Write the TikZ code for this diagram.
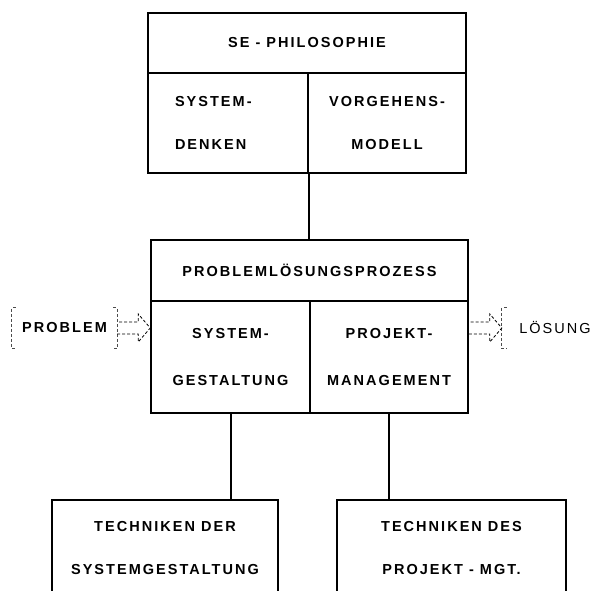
\documentclass[tikz,border=0pt]{standalone}
\usepackage{fontspec}
\setmainfont{Liberation Sans}[LetterSpace=14]
\usetikzlibrary{calc}

\tikzset{
  box/.style={draw, line width=1.5pt, inner sep=0pt, align=center,
    font=\bfseries\fontsize{14.5}{43}\selectfont},
  link/.style={line width=1.5pt},
  hollow/.style={densely dashed, line width=0.8pt},
  bracket/.style={densely dashed, line width=0.8pt, black!70},
  label/.style={inner sep=0pt, minimum height=40, font=\fontsize{14.5}{16}\selectfont},
}
% hollow block arrow from #1 to #2
\newcommand{\fatarrow}[2]{%
  \draw[hollow] ($(#1)+(0,6)$) -- ($(#2)+(-12,6)$) -- ($(#2)+(-12,14)$) -- (#2)
    -- ($(#2)+(-12,-14)$) -- ($(#2)+(-12,-6)$) -- ($(#1)+(0,-6)$);}

\begin{document}
\begin{tikzpicture}[x=1pt,y=-1pt]
\useasboundingbox (0,0) rectangle (602,591);

% SE-Philosophie
\node[box, minimum width=318, minimum height=60] (phil) at (307,43) {SE - PHILOSOPHIE};
\node[box, minimum width=160, minimum height=100, text width=106, align=left] (sysdenk) at (228,123) {SYSTEM-\\DENKEN};
\node[box, minimum width=158, minimum height=100] (vormod) at (387,123) {VORGEHENS-\\MODELL};

% Problemloesungsprozess
\node[box, minimum width=317, minimum height=61] (pls) at (309.5,270.5) {PROBLEMLÖSUNGSPROZESS};
\node[box, minimum width=159, minimum height=112, font=\bfseries\fontsize{14.5}{47}\selectfont] (sysgest) at (230.5,357) {SYSTEM-\\GESTALTUNG};
\node[box, minimum width=158, minimum height=112, font=\bfseries\fontsize{14.5}{47}\selectfont] (projman) at (389,357) {PROJEKT-\\MANAGEMENT};

% Techniken
\node[box, minimum width=226, minimum height=97] (tsg) at (165,548.5) {TECHNIKEN DER\\SYSTEMGESTALTUNG};
\node[box, minimum width=229, minimum height=97] (tpm) at (451.5,548.5) {TECHNIKEN DES\\PROJEKT - MGT.};

\draw[link] (sysdenk.south east) -- (sysdenk.south east |- pls.north);
\draw[link] ($(sysgest.south)+(0.5,0)$) -- ($(sysgest.south |- tsg.north)+(0.5,0)$);
\draw[link] (projman.south) -- (projman.south |- tpm.north);

% input / output
\node[label, minimum width=105, font=\bfseries\fontsize{14.5}{16}\selectfont] (prob) at (64.5,328) {PROBLEM};
\node[label, minimum width=106] (loes) at (555,328) {LÖSUNG};
\draw[bracket] ($(prob.north west)+(4,0)$) -- (prob.north west) -- (prob.south west) -- ++(4,0);
\draw[bracket] ($(prob.north east)+(-4,0)$) -- (prob.north east) -- (prob.south east) -- ++(-4,0);
\draw[bracket] ($(loes.north west)+(5,0)$) -- (loes.north west) -- (loes.south west) -- ++(5,0);

\coordinate (tipL) at (prob.east -| sysgest.west);
\coordinate (tailR) at (loes.west -| projman.east);
\fatarrow{prob.east}{tipL}
\fatarrow{tailR}{loes.west}
\end{tikzpicture}
\end{document}
